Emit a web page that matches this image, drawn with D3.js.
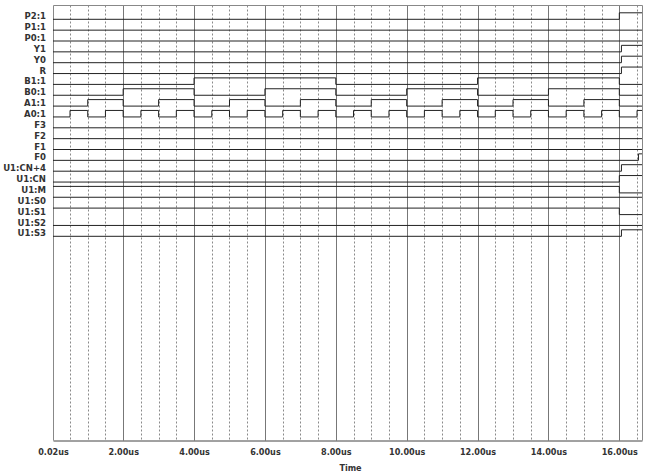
<!DOCTYPE html>
<html>
<head>
<meta charset="utf-8">
<script src="https://cdn.jsdelivr.net/npm/d3@7"></script>
<style>
  body { margin: 0; background: #fff; }
  text { font-family: 'DejaVu Sans Condensed', 'DejaVu Sans', sans-serif; font-weight: bold; fill: #333; }
</style>
</head>
<body>
<div id="chart"></div>
<script>
// signal names, top to bottom
const signalNames = ['P2:1', 'P1:1', 'P0:1', 'Y1', 'Y0', 'R', 'B1:1', 'B0:1', 'A1:1', 'A0:1',
  'F3', 'F2', 'F1', 'F0', 'U1:CN+4', 'U1:CN', 'U1:M', 'U1:S0', 'U1:S1', 'U1:S2', 'U1:S3']

// transitions as [time in us, level]
const P2 = [[0, 0], [16, 1]]
const P1 = [[0, 0]]
const P0 = [[0, 0]]
const Y1 = [[0, 0], [16.06, 1]]
const Y0 = [[0, 0], [16.06, 1]]
const R = [[0, 0], [16.06, 1]]
const B1 = [[0, 0], [4, 1], [8, 0], [12, 1], [16, 0]]
const B0 = [[0, 0], [2, 1], [4, 0], [6, 1], [8, 0], [10, 1], [12, 0], [14, 1], [16, 0]]
const A1 = [[0, 0], [1, 1], [2, 0], [3, 1], [4, 0], [5, 1], [6, 0], [7, 1], [8, 0],
  [9, 1], [10, 0], [11, 1], [12, 0], [13, 1], [14, 0], [15, 1], [16, 0]]
const A0 = [[0, 0], [0.5, 1], [1, 0], [1.5, 1], [2, 0], [2.5, 1], [3, 0], [3.5, 1], [4, 0],
  [4.5, 1], [5, 0], [5.5, 1], [6, 0], [6.5, 1], [7, 0], [7.5, 1], [8, 0],
  [8.5, 1], [9, 0], [9.5, 1], [10, 0], [10.5, 1], [11, 0], [11.5, 1], [12, 0],
  [12.5, 1], [13, 0], [13.5, 1], [14, 0], [14.5, 1], [15, 0], [15.5, 1], [16, 0], [16.5, 1]]
const F3 = [[0, 0]]
const F2 = [[0, 0]]
const F1 = [[0, 0]]
const F0 = [[0, 0], [16.54, 1]]
const CN4 = [[0, 0], [16.06, 1]]
const CN = [[0, 0], [16, 1]]
const M = [[0, 1], [16, 0]]
const S0 = [[0, 1]]
const S1 = [[0, 1], [16, 0]]
const S2 = [[0, 0]]
const S3 = [[0, 0], [16.06, 1]]

const signalData = [P2, P1, P0, Y1, Y0, R, B1, B0, A1, A0, F3, F2, F1, F0, CN4, CN, M, S0, S1, S2, S3]

// axis
const tStart = 0.02
const tEnd = 16.64
const tickValues = [0.02, 2, 4, 6, 8, 10, 12, 14, 16]
const minorValues = [0.5, 1, 1.5, 2.5, 3, 3.5, 4.5, 5, 5.5, 6.5, 7, 7.5, 8.5, 9, 9.5,
  10.5, 11, 11.5, 12.5, 13, 13.5, 14.5, 15, 15.5, 16.5]

const fullWidth = 649,
  fullHeight = 472,
  plotLeft = 53,
  plotRight = 642,
  plotTop = 5.5,
  plotBottom = 440.5

const svg = d3.select('#chart')
  .append('svg')
    .attr('width', fullWidth)
    .attr('height', fullHeight)

const xScale = d3.scaleLinear()
  .domain([tStart, tEnd])
  .range([plotLeft, plotRight])

// y of the low level of each row
const rowScale = d3.scalePoint()
  .domain(signalNames)
  .range([19.3, 236.3])

const amp = 6.5

// dotted grid every 0.5us
svg.append('g')
  .selectAll('line')
  .data(minorValues)
  .enter()
  .append('line')
    .attr('x1', d => Math.round(xScale(d)) + 0.5)
    .attr('x2', d => Math.round(xScale(d)) + 0.5)
    .attr('y1', plotTop)
    .attr('y2', plotBottom)
    .style('stroke', '#8a8a8a')
    .style('stroke-dasharray', '2,2')

// solid grid every 2us
svg.append('g')
  .selectAll('line')
  .data(tickValues.slice(1))
  .enter()
  .append('line')
    .attr('x1', d => Math.round(xScale(d)) + 0.5)
    .attr('x2', d => Math.round(xScale(d)) + 0.5)
    .attr('y1', plotTop)
    .attr('y2', plotBottom)
    .style('stroke', '#777')

// frame
svg.append('path')
  .attr('d', `M${plotLeft + 0.5},${plotBottom}V${plotTop}H${plotRight + 0.5}V${plotBottom}`)
  .style('fill', 'none')
  .style('stroke', '#888')

// bottom axis
const xAxis = d3.axisBottom(xScale)
  .tickValues(tickValues)
  .tickSize(0)
  .tickPadding(8)
  .tickFormat(d => d3.format('.2f')(d) + 'us')

svg.append('g')
  .attr('transform', `translate(0, ${plotBottom})`)
  .call(xAxis)
  .call(g => g.select('.domain').attr('stroke', '#444'))
  .call(g => g.selectAll('text')
    .style('font-family', "'DejaVu Sans Condensed', sans-serif")
    .style('font-weight', 'bold')
    .style('font-size', '9px')
    .attr('fill', '#333'))

svg.append('text')
  .attr('x', (plotLeft + plotRight) / 2 + 3)
  .attr('y', 471)
  .attr('text-anchor', 'middle')
  .style('font-size', '9px')
  .text('Time')

// signal labels
svg.append('g')
  .selectAll('text')
  .data(signalNames)
  .enter()
  .append('text')
    .attr('x', 46)
    .attr('y', d => rowScale(d) - amp / 2)
    .attr('dy', '0.35em')
    .attr('text-anchor', 'end')
    .style('font-size', '9.5px')
    .text(d => d)

// waveforms
const line = d3.line()
  .curve(d3.curveStepAfter)
  .x(d => xScale(Math.max(d[0], tStart)))
  .y(d => d[1])

svg.append('g')
  .selectAll('path')
  .data(signalNames)
  .enter()
  .append('path')
    .attr('d', (name, i) => {
      const low = rowScale(name)
      const pts = signalData[i].map(p => [p[0], p[1] ? low - amp : low])
      pts.push([tEnd, pts[pts.length - 1][1]])
      return line(pts)
    })
    .style('fill', 'none')
    .style('stroke', '#222')
    .style('stroke-width', 1)
</script>
</body>
</html>
